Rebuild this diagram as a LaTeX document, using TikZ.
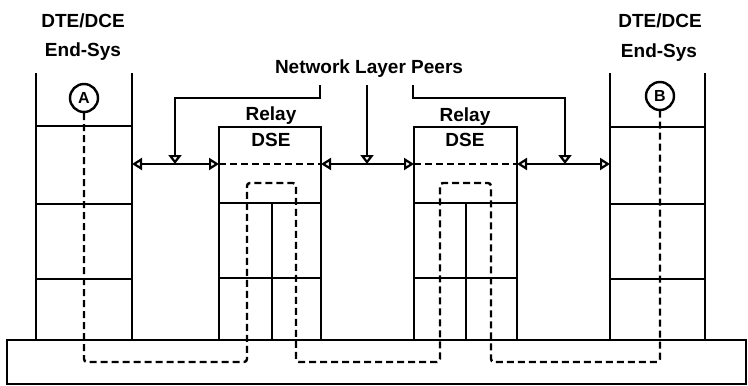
\documentclass[tikz,border=0pt]{standalone}
\usepackage{fontspec}
\setmainfont{Liberation Sans}
\usetikzlibrary{arrows.meta}
\begin{document}
\begin{tikzpicture}[x=1pt,y=-1pt,line width=2.6pt,
  lbl/.style={font=\fontsize{19}{22}\selectfont\bfseries,inner sep=0pt},
  endpt/.style={circle,draw,line width=2.4pt,inner sep=0pt,minimum size=28pt,font=\fontsize{16}{18}\selectfont\bfseries},
  route/.style={dash pattern=on 7pt off 4pt,line width=2.4pt,rounded corners=3pt},
  peer/.style={{Triangle[open,length=10pt,width=12pt,line width=2.2pt]}-{Triangle[open,length=10pt,width=12pt,line width=2.2pt]}},
  pointer/.style={-{Triangle[open,length=9pt,width=13pt,line width=2.2pt]}}]
\useasboundingbox (0,0) rectangle (748,386);
% base (physical medium)
\draw (7,340) rectangle (746,384);
% left end system
\draw (36,73) -- (36,340);
\draw (132,73) -- (132,340);
\draw (36,126) -- (132,126);
\draw (36,204) -- (132,204);
\draw (36,279) -- (132,279);
% relay 1
\draw (219,340) |- (321,127) -- (321,340);
\draw (219,203) -- (321,203);
\draw (219,278) -- (321,278);
\draw (272,203) -- (272,340);
% relay 2
\draw (414,340) |- (517,127) -- (517,340);
\draw (414,203) -- (517,203);
\draw (414,278) -- (517,278);
\draw (466,203) -- (466,340);
% right end system
\draw (610,73) -- (610,340);
\draw (705,73) -- (705,340);
\draw (610,127) -- (705,127);
\draw (610,204) -- (705,204);
\draw (610,279) -- (705,279);
% labels
\node[lbl] (dte1) at (83,21) {DTE/DCE};
\node[lbl] (es1) at (83,52) {End-Sys};
\node[lbl] (dte2) at (660,21) {DTE/DCE};
\node[lbl] (es2) at (659,53) {End-Sys};
\node[lbl] (nlp) at (369,69) {Network Layer Peers};
\node[lbl] (relay1) at (271,116) {Relay};
\node[lbl] (dse1) at (271,140) {DSE};
\node[lbl] (relay2) at (465,117) {Relay};
\node[lbl] (dse2) at (465,140) {DSE};
\node[endpt] (A) at (84,98) {A};
\node[endpt] (B) at (660,96) {B};
% peer arrows
\coordinate (p1l) at (132,164);
\coordinate (p1r) at (219,164);
\coordinate (p2l) at (321,164);
\coordinate (p2r) at (414,164);
\coordinate (p3l) at (517,164);
\coordinate (p3r) at (610,164);
\draw[peer] (p1l) -- (p1r);
\draw[peer] (p2l) -- (p2r);
\draw[peer] (p3l) -- (p3r);
\draw[dash pattern=on 7pt off 4pt] (p1r) -- (p2l);
\draw[dash pattern=on 7pt off 4pt] (p2r) -- (p3l);
% pointers from label
\coordinate (s1) at (320,85);
\coordinate (s2) at (367,85);
\coordinate (s3) at (413,85);
\coordinate (t1) at (175,164);
\coordinate (t2) at (367,164);
\coordinate (t3) at (565,164);
\draw[pointer] (s1) -- (320,98) -| (t1);
\draw[pointer] (s2) -- (t2);
\draw[pointer] (s3) -- (413,98) -| (t3);
% data route
\draw[route] (A.south) -- (84,362) -- (247,362) -- (247,183) -- (296,183) -- (296,362)
  -- (440,362) -- (440,183) -- (491,183) -- (491,362) -- (660,362) -- (B.south);
\end{tikzpicture}
\end{document}
